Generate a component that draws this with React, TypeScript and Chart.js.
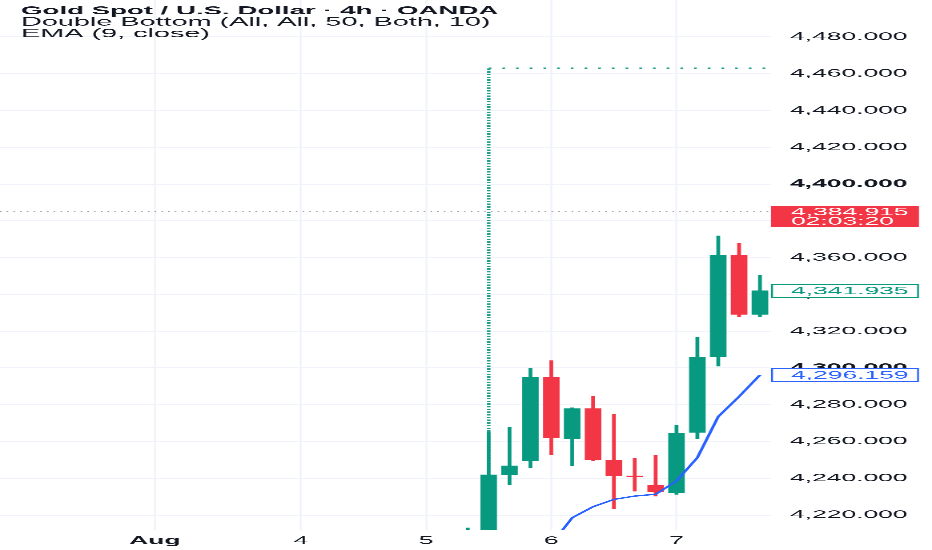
import { useEffect, useRef } from 'react';
import { Chart, registerables } from 'chart.js';

Chart.register(...registerables);

// ---------- data ----------
const candleX = [-1, 0, 1, 2, 3, 4, 5, 6, 7, 8, 9, 10, 11, 12, 13];
const opens = [4200, 4209, 4242.1, 4249.5, 4294.7, 4261.7, 4277.8, 4249.9, 4241.0, 4236.0, 4232.3, 4265.0, 4306.2, 4361.3, 4329.2];
const highs = [4213, 4265, 4267.7, 4299.8, 4303.9, 4278.3, 4284.4, 4274.9, 4250.8, 4252.6, 4268.8, 4316.5, 4371.8, 4367.8, 4350.4];
const lows = [4190, 4200, 4236.7, 4245.7, 4253.0, 4247.0, 4249.5, 4223.4, 4233.0, 4230.3, 4231.3, 4261.7, 4301.0, 4327.9, 4327.9];
const closes = [4206, 4241.8, 4246.7, 4294.7, 4262.1, 4277.8, 4249.9, 4241.2, 4240.7, 4232.7, 4264.4, 4305.8, 4361.3, 4329.2, 4341.935];

const emaX = [3, 4, 5, 6, 7, 8, 9, 10, 11, 12, 13];
const emaValues = [4204, 4218.5, 4224.5, 4228.5, 4230.3, 4231.3, 4238.5, 4251.2, 4273.5, 4284.4, 4296.159];

const dayTickValues = [-16, -9, -3, 3, 9];
const dayTickLabels = ['Aug', '4', '5', '6', '7'];
const priceTicks = [4220, 4240, 4260, 4280, 4300, 4320, 4340, 4360, 4380, 4400, 4420, 4440, 4460, 4480];

const lastPrice = 4384.915;
const countdown = '02:03:20';
const lastClose = 4341.935;
const emaLast = 4296.159;

const patternX = 0;
const patternEndX = 13.5;
const patternBase = 4241.8;
const patternTarget = 4463;

const titleLines = [
  'Gold Spot / U.S. Dollar \u00b7 4h \u00b7 OANDA',
  'Double Bottom (All, All, 50, Both, 10)',
  'EMA (9, close)',
];

const xMin = -23.42;
const xMax = 13.53;
const yMin = 4211.85;
const yMax = 4500.1;

// ---------- layout (canvas drawn narrow, displayed stretched) ----------
const W = 388;
const H = 550;
const K = 932 / W;
const FONT = '"Liberation Sans", Arial, sans-serif';
const UP = '#089981';
const DOWN = '#F23645';
const BLUE = '#2962FF';
const TEXT = '#131722';
const GRID = '#F0F3FA';

const chartRight = 771 / K;
const yAxisW = W - chartRight;
const labelX = 791 / K;
const boxW = 919 / K - chartRight;

const fmt = (v: number) =>
  v.toLocaleString('en-US', { minimumFractionDigits: 3, maximumFractionDigits: 3 });

const colors = candleX.map((_, i) => (closes[i] >= opens[i] ? UP : DOWN));

const overlayPlugin = {
  id: 'overlay',
  afterDraw(chart: any) {
    const { ctx } = chart;
    const y = chart.scales.y;
    const left = chart.chartArea.right;
    ctx.save();
    ctx.textAlign = 'left';
    ctx.textBaseline = 'middle';
    ctx.fillStyle = TEXT;
    ctx.font = `bold 11.5px ${FONT}`;
    ctx.fillText(titleLines[0], 21 / K, 11);
    ctx.font = `12px ${FONT}`;
    ctx.fillText(titleLines[1], 21 / K, 22.5);
    ctx.fillText(titleLines[2], 21 / K, 34);

    // last price label
    const py = y.getPixelForValue(lastPrice);
    ctx.fillStyle = DOWN;
    ctx.fillRect(left, py - 6, boxW, 21);
    ctx.fillStyle = '#FFFFFF';
    ctx.font = `11px ${FONT}`;
    ctx.fillText(fmt(lastPrice), labelX, py + 0.5);
    ctx.fillText(countdown, labelX, py + 10);

    const outlined = (value: number, color: string) => {
      const p = y.getPixelForValue(value);
      ctx.fillStyle = '#FFFFFF';
      ctx.fillRect(left, p - 6.5, boxW, 13);
      ctx.strokeStyle = color;
      ctx.lineWidth = 0.8;
      ctx.strokeRect(left + 0.4, p - 6.5, boxW - 0.8, 13);
      ctx.fillStyle = color;
      ctx.font = `11px ${FONT}`;
      ctx.fillText(fmt(value), labelX, p + 0.5);
    };
    outlined(lastClose, UP);
    outlined(emaLast, BLUE);
    ctx.restore();
  },
};

export default function App() {
  const ref = useRef<HTMLCanvasElement | null>(null);

  useEffect(() => {
    if (!ref.current) return;
    const chart = new Chart(ref.current, {
      type: 'bar',
      data: {
        datasets: [
          {
            type: 'line',
            label: 'EMA',
            data: emaX.map((x, i) => ({ x, y: emaValues[i] })),
            borderColor: BLUE,
            borderWidth: 1.3,
            pointRadius: 0,
            tension: 0,
            fill: false,
            order: 1,
          } as any,
          {
            type: 'bar',
            label: 'bodies',
            data: candleX.map((x, i) => ({ x, y: [opens[i], closes[i]] })),
            backgroundColor: colors,
            borderWidth: 0,
            barThickness: 15 / K,
            minBarLength: 1,
            grouped: false,
            order: 2,
          } as any,
          {
            type: 'bar',
            label: 'wicks',
            data: candleX.map((x, i) => ({ x, y: [lows[i], highs[i]] })),
            backgroundColor: colors,
            borderWidth: 0,
            barThickness: 2.2 / K,
            grouped: false,
            order: 3,
          } as any,
          {
            type: 'line',
            label: 'pattern-vertical',
            data: [
              { x: patternX, y: patternBase },
              { x: patternX, y: patternTarget },
            ],
            borderColor: '#1E9E8A',
            borderWidth: 1.5,
            borderDash: [1.4, 1.3],
            pointRadius: 0,
            fill: false,
            order: 4,
          } as any,
          {
            type: 'line',
            label: 'pattern-target',
            data: [
              { x: patternX, y: patternTarget },
              { x: patternEndX, y: patternTarget },
            ],
            borderColor: '#1E9E8A',
            borderWidth: 1.5,
            borderDash: [1.1, 4.6],
            pointRadius: 0,
            fill: false,
            order: 4,
          } as any,
          {
            type: 'line',
            label: 'price-line',
            data: [
              { x: xMin, y: lastPrice },
              { x: xMax, y: lastPrice },
            ],
            borderColor: '#9598A1',
            borderWidth: 1.1,
            borderDash: [0.6, 2.2],
            pointRadius: 0,
            fill: false,
            order: 5,
          } as any,
        ],
      },
      options: {
        animation: false,
        responsive: false,
        devicePixelRatio: 3,
        layout: { padding: 0 },
        plugins: {
          legend: { display: false },
          tooltip: { enabled: false },
        },
        scales: {
          x: {
            type: 'linear',
            min: xMin,
            max: xMax,
            offset: false,
            afterBuildTicks: (s: any) => {
              s.ticks = dayTickValues.map((v) => ({ value: v }));
            },
            afterFit: (s: any) => {
              s.height = H - 530;
              s.paddingLeft = 0;
              s.paddingRight = 0;
            },
            grid: { color: GRID, lineWidth: 0.8, drawTicks: false, offset: false },
            border: { display: false },
            ticks: {
              autoSkip: false,
              maxRotation: 0,
              padding: 4.4,
              color: TEXT,
              callback: (_v: any, i: number) => dayTickLabels[i],
              font: (c: any) => ({ family: FONT, size: 11, weight: c.index === 0 ? 'bold' : 'normal' }),
            },
          },
          y: {
            type: 'linear',
            position: 'right',
            min: yMin,
            max: yMax,
            afterBuildTicks: (s: any) => {
              s.ticks = priceTicks.map((v) => ({ value: v }));
            },
            afterFit: (s: any) => {
              s.width = yAxisW;
              s.paddingTop = 0;
              s.paddingBottom = 0;
            },
            grid: { color: GRID, lineWidth: 1, drawTicks: false },
            border: { display: false },
            ticks: {
              padding: 790 / K - chartRight,
              color: TEXT,
              callback: (v: any) => fmt(Number(v)),
              font: (c: any) => ({
                family: FONT,
                size: 11,
                weight: c.tick && c.tick.value % 100 === 0 ? 'bold' : 'normal',
              }),
            },
          },
        },
      },
      plugins: [overlayPlugin],
    } as any);
    return () => chart.destroy();
  }, []);

  return (
    <div style={{ position: 'fixed', left: 0, top: 0, width: 932, height: H, background: '#FFFFFF' }}>
      <canvas
        ref={ref}
        width={W}
        height={H}
        style={{ width: '932px', height: `${H}px`, display: 'block' }}
      />
    </div>
  );
}
